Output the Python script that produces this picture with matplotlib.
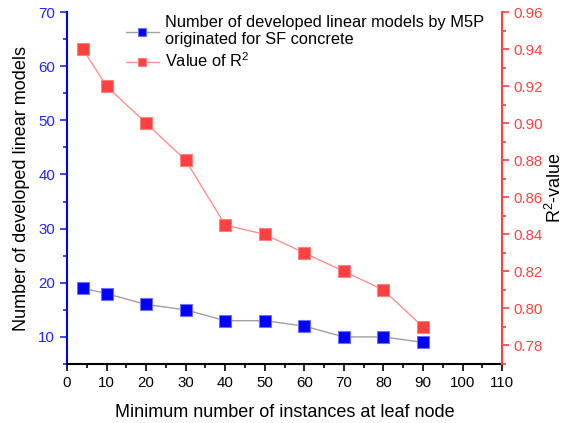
import matplotlib.pyplot as plt
import numpy as np
from matplotlib.ticker import MultipleLocator

plt.rcParams['font.family'] = ['Liberation Sans', 'DejaVu Sans']
plt.rcParams['mathtext.fontset'] = 'custom'
plt.rcParams['mathtext.rm'] = 'Liberation Sans'

min_instances = [4, 10, 20, 30, 40, 50, 60, 70, 80, 90]
n_models = [19, 18, 16, 15, 13, 13, 12, 10, 10, 9]
r2_values = [0.94, 0.92, 0.90, 0.88, 0.845, 0.84, 0.83, 0.82, 0.81, 0.79]

blue = '#0000ff'
red = '#ff4040'

fig = plt.figure(figsize=(5.65, 4.23), dpi=100)
ax1 = fig.add_axes([0.1186, 0.1395, 0.77, 0.832])
ax2 = ax1.twinx()

l1, = ax1.plot(min_instances, n_models, color='#a0a0a0', lw=1, marker='s', ms=8,
               mfc=blue, mec='#7070ff', mew=0.8, zorder=3,
               label='Number of developed linear models by M5P\noriginated for SF concrete')
l2, = ax2.plot(min_instances, r2_values, color='#ff9090', lw=1, marker='s', ms=8,
               mfc=red, mec='#ff8080', mew=0.8, zorder=3,
               label='Value of R$^2$')

ax1.set_xlim(0, 110)
ax1.set_ylim(5, 70)
ax2.set_ylim(0.77, 0.96)

ax1.xaxis.set_major_locator(MultipleLocator(10))
ax1.xaxis.set_minor_locator(MultipleLocator(5))
ax1.yaxis.set_major_locator(MultipleLocator(10))
ax1.yaxis.set_minor_locator(MultipleLocator(5))
ax2.yaxis.set_major_locator(MultipleLocator(0.02))
ax2.yaxis.set_minor_locator(MultipleLocator(0.01))
ax2.yaxis.set_major_formatter(plt.FormatStrFormatter('%.2f'))

for s in ['top', 'right']:
    ax1.spines[s].set_visible(False)
for s in ['top', 'left', 'bottom']:
    ax2.spines[s].set_visible(False)
ax1.spines['left'].set_color(blue)
ax1.spines['left'].set_linewidth(1.5)
ax1.spines['bottom'].set_linewidth(1.5)
ax2.spines['right'].set_color(red)
ax2.spines['right'].set_linewidth(1.5)

ax1.tick_params(axis='x', which='both', direction='out', labelsize=10.8, width=1.2)
ax1.tick_params(axis='x', which='major', length=5)
ax1.tick_params(axis='x', which='minor', length=3)
ax1.tick_params(axis='y', which='both', direction='out', colors='#2222ff', labelsize=10.8, width=1.2)
ax1.tick_params(axis='y', which='major', length=5)
ax1.tick_params(axis='y', which='minor', length=3)
ax2.tick_params(axis='y', which='both', direction='out', colors=red, labelsize=10.8, width=1.2)
ax2.tick_params(axis='y', which='major', length=5)
ax2.tick_params(axis='y', which='minor', length=3)

ax1.set_xlabel('Minimum number of instances at leaf node', fontsize=13, labelpad=10)
ax1.set_ylabel('Number of developed linear models', fontsize=13, labelpad=6)
ax2.set_ylabel('R$^2$-value', fontsize=13, labelpad=1)

ax1.legend(handles=[l1, l2], loc='upper left', bbox_to_anchor=(0.12, 1.01),
           frameon=False, fontsize=11.8, handlelength=2.0, handletextpad=0.4,
           labelspacing=0.25, borderaxespad=0, markerscale=0.75)

fig.savefig('out.png', dpi=100)
